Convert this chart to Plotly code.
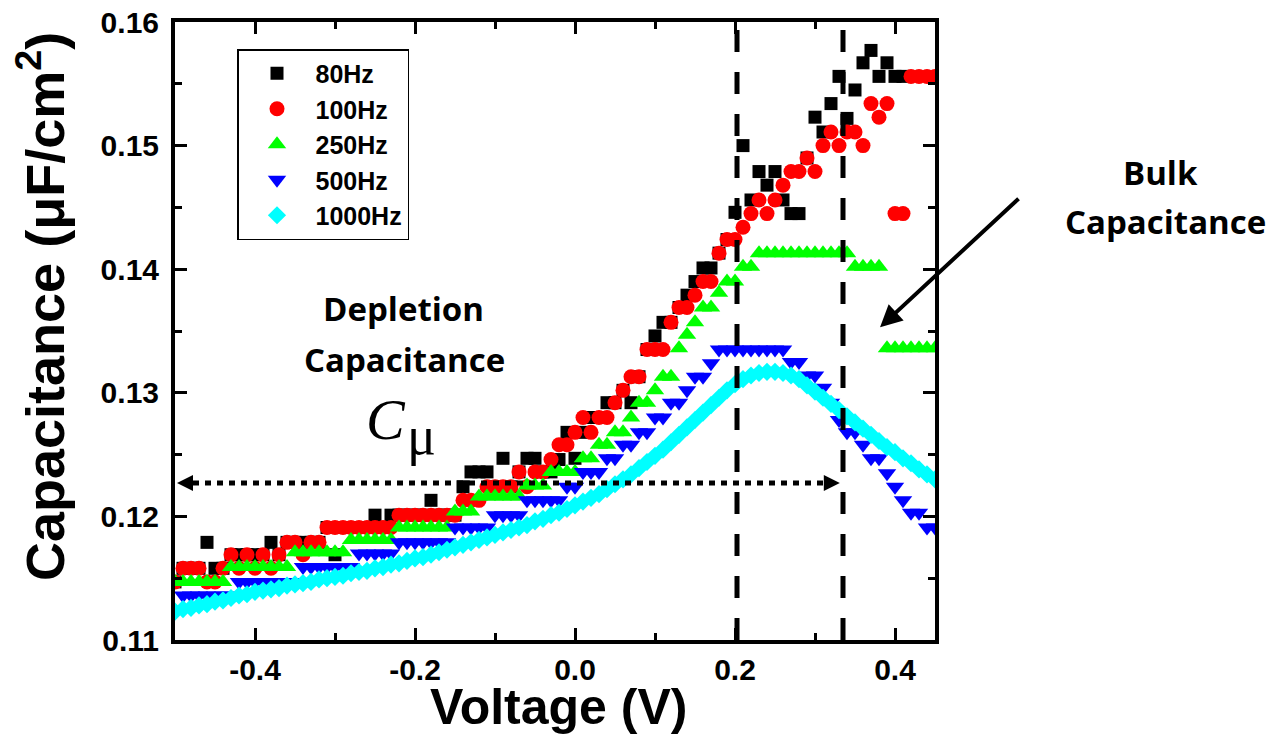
import plotly.graph_objects as go

# ---------------- data ----------------
voltage = [-0.50, -0.49, -0.48, -0.47, -0.46, -0.45, -0.44, -0.43, -0.42, -0.41,
           -0.40, -0.39, -0.38, -0.37, -0.36, -0.35, -0.34, -0.33, -0.32, -0.31,
           -0.30, -0.29, -0.28, -0.27, -0.26, -0.25, -0.24, -0.23, -0.22, -0.21,
           -0.20, -0.19, -0.18, -0.17, -0.16, -0.15, -0.14, -0.13, -0.12, -0.11,
           -0.10, -0.09, -0.08, -0.07, -0.06, -0.05, -0.04, -0.03, -0.02, -0.01,
           0.00, 0.01, 0.02, 0.03, 0.04, 0.05, 0.06, 0.07, 0.08, 0.09,
           0.10, 0.11, 0.12, 0.13, 0.14, 0.15, 0.16, 0.17, 0.18, 0.19,
           0.20, 0.21, 0.22, 0.23, 0.24, 0.25, 0.26, 0.27, 0.28, 0.29,
           0.30, 0.31, 0.32, 0.33, 0.34, 0.35, 0.36, 0.37, 0.38, 0.39,
           0.40, 0.41, 0.42, 0.43, 0.44, 0.45]

v_80 = voltage[:92]       # 80 Hz sweep ends at 0.41 V
c_80 = [0.1147, 0.1158, 0.1158, 0.1158, 0.1179, 0.1158, 0.1158, 0.1169, 0.1169, 0.1169,
        0.1169, 0.1169, 0.1179, 0.1169, 0.1179, 0.1179, 0.1179, 0.1179, 0.1179, 0.1191,
        0.1169, 0.1191, 0.1191, 0.1191, 0.1191, 0.1201, 0.1191, 0.1201, 0.1201, 0.1201,
        0.1201, 0.1201, 0.1213, 0.1201, 0.1201, 0.1201, 0.1224, 0.1236, 0.1236, 0.1236,
        0.1224, 0.1247, 0.1224, 0.1236, 0.1247, 0.1247, 0.1236, 0.1236, 0.1246, 0.1268,
        0.1247, 0.1268, 0.1280, 0.1280, 0.1292, 0.1292, 0.1302, 0.1292, 0.1313, 0.1335,
        0.1346, 0.1357, 0.1357, 0.1369, 0.1379, 0.1390, 0.1401, 0.1401, 0.1413, 0.1424,
        0.1446, 0.1500, 0.1456, 0.1479, 0.1468, 0.1479, 0.1456, 0.1445, 0.1445, 0.1490,
        0.1523, 0.1511, 0.1534, 0.1556, 0.1522, 0.1545, 0.1567, 0.1577, 0.1556, 0.1567,
        0.1556, 0.1556]

v_100 = voltage
c_100 = [0.1147, 0.1158, 0.1158, 0.1158, 0.1147, 0.1147, 0.1158, 0.1169, 0.1158, 0.1169,
         0.1158, 0.1169, 0.1158, 0.1169, 0.1179, 0.1179, 0.1169, 0.1179, 0.1179, 0.1191,
         0.1191, 0.1191, 0.1191, 0.1191, 0.1191, 0.1191, 0.1191, 0.1191, 0.1201, 0.1201,
         0.1201, 0.1201, 0.1201, 0.1201, 0.1201, 0.1201, 0.1213, 0.1213, 0.1213, 0.1224,
         0.1224, 0.1224, 0.1224, 0.1236, 0.1224, 0.1236, 0.1236, 0.1246, 0.1258, 0.1258,
         0.1268, 0.1280, 0.1268, 0.1280, 0.1280, 0.1292, 0.1302, 0.1313, 0.1313, 0.1335,
         0.1335, 0.1335, 0.1357, 0.1369, 0.1369, 0.1379, 0.1390, 0.1390, 0.1413, 0.1424,
         0.1424, 0.1434, 0.1445, 0.1456, 0.1445, 0.1456, 0.1468, 0.1479, 0.1479, 0.1490,
         0.1479, 0.1500, 0.1511, 0.1500, 0.1511, 0.1511, 0.1500, 0.1534, 0.1523, 0.1534,
         0.1445, 0.1445, 0.1556, 0.1556, 0.1556, 0.1556]

v_250 = voltage
c_250 = [0.1147, 0.1147, 0.1147, 0.1147, 0.1147, 0.1147, 0.1147, 0.1159, 0.1159, 0.1159,
         0.1159, 0.1159, 0.1159, 0.1159, 0.1159, 0.1171, 0.1171, 0.1171, 0.1171, 0.1171,
         0.1171, 0.1171, 0.1181, 0.1181, 0.1181, 0.1181, 0.1181, 0.1181, 0.1191, 0.1191,
         0.1191, 0.1191, 0.1191, 0.1191, 0.1191, 0.1204, 0.1204, 0.1204, 0.1216, 0.1216,
         0.1216, 0.1216, 0.1216, 0.1216, 0.1225, 0.1225, 0.1225, 0.1236, 0.1236, 0.1236,
         0.1236, 0.1247, 0.1247, 0.1258, 0.1258, 0.1268, 0.1268, 0.1280, 0.1292, 0.1292,
         0.1302, 0.1313, 0.1313, 0.1336, 0.1347, 0.1357, 0.1369, 0.1369, 0.1381, 0.1390,
         0.1390, 0.1402, 0.1402, 0.1413, 0.1413, 0.1413, 0.1413, 0.1413, 0.1413, 0.1413,
         0.1413, 0.1413, 0.1413, 0.1413, 0.1413, 0.1402, 0.1402, 0.1402, 0.1402, 0.1336,
         0.1336, 0.1336, 0.1336, 0.1336, 0.1336, 0.1336]

v_500 = voltage[1:]       # 500 Hz sweep starts at -0.49 V
c_500 = [0.1136, 0.1136, 0.1136, 0.1136, 0.1136, 0.1136, 0.1136, 0.1147, 0.1147,
         0.1147, 0.1147, 0.1147, 0.1147, 0.1147, 0.1147, 0.1159, 0.1159, 0.1159, 0.1159,
         0.1159, 0.1159, 0.1159, 0.1170, 0.1170, 0.1170, 0.1170, 0.1170, 0.1179, 0.1179,
         0.1179, 0.1179, 0.1179, 0.1179, 0.1179, 0.1191, 0.1191, 0.1191, 0.1191, 0.1191,
         0.1201, 0.1201, 0.1201, 0.1201, 0.1213, 0.1213, 0.1213, 0.1213, 0.1213, 0.1224,
         0.1224, 0.1236, 0.1236, 0.1236, 0.1247, 0.1247, 0.1258, 0.1258, 0.1268, 0.1268,
         0.1280, 0.1280, 0.1292, 0.1292, 0.1302, 0.1313, 0.1313, 0.1324, 0.1335, 0.1335,
         0.1335, 0.1335, 0.1335, 0.1335, 0.1335, 0.1335, 0.1335, 0.1325, 0.1325, 0.1314,
         0.1314, 0.1304, 0.1292, 0.1278, 0.1268, 0.1268, 0.1258, 0.1247, 0.1247, 0.1235,
         0.1224, 0.1213, 0.1203, 0.1203, 0.1191, 0.1191]

v_1000 = voltage
c_1000 = [0.1123, 0.1125, 0.1126, 0.1128, 0.1129, 0.1131, 0.1132, 0.1134, 0.1136, 0.1137,
          0.1139, 0.1140, 0.1141, 0.1142, 0.1144, 0.1145, 0.1146, 0.1147, 0.1149, 0.1150,
          0.1151, 0.1152, 0.1154, 0.1155, 0.1156, 0.1158, 0.1159, 0.1161, 0.1162, 0.1164,
          0.1166, 0.1167, 0.1169, 0.1171, 0.1173, 0.1175, 0.1177, 0.1179, 0.1181, 0.1183,
          0.1185, 0.1187, 0.1189, 0.1191, 0.1193, 0.1196, 0.1198, 0.1201, 0.1203, 0.1206,
          0.1209, 0.1212, 0.1215, 0.1218, 0.1222, 0.1226, 0.1230, 0.1234, 0.1239, 0.1244,
          0.1249, 0.1254, 0.1260, 0.1266, 0.1272, 0.1278, 0.1284, 0.1290, 0.1296, 0.1302,
          0.1307, 0.1311, 0.1314, 0.1316, 0.1317, 0.1317, 0.1316, 0.1314, 0.1311, 0.1306,
          0.1301, 0.1296, 0.1291, 0.1286, 0.1281, 0.1276, 0.1271, 0.1266, 0.1261, 0.1256,
          0.1252, 0.1247, 0.1243, 0.1238, 0.1234, 0.1230]

series_names = ["80Hz", "100Hz", "250Hz", "500Hz", "1000Hz"]
x_tick_vals = [-0.4, -0.2, 0.0, 0.2, 0.4]
x_tick_text = ["-0.4", "-0.2", "0.0", "0.2", "0.4"]
y_tick_vals = [0.11, 0.12, 0.13, 0.14, 0.15, 0.16]
y_tick_text = ["0.11", "0.12", "0.13", "0.14", "0.15", "0.16"]

# annotation anchors (data units)
region_edges_v = [0.2025, 0.335]      # dashed vertical lines
cmu_level = 0.1227                    # dotted double arrow level
cmu_span = [-0.4775, 0.3137]
bulk_arrow_tip = (0.3813, 0.1353)

# ---------------- layout geometry ----------------
OFF = 8                      # page body margin of the exported html
W, H = 1274 - OFF, 737 - OFF
L, T = 175 - OFF, 22 - OFF   # plot area left / top on the page
PR, PB = 935 - OFF, 640 - OFF
R, B = W - PR, H - PB
PW, PH = PR - L, PB - T


def px2paper(px, py):
    """page pixel -> paper coordinates"""
    return (px - OFF - L) / PW, (PB - (py - OFF)) / PH


styles = [
    dict(symbol="square", size=13, color="#000000"),
    dict(symbol="circle", size=15, color="#FF0000"),
    dict(symbol="triangle-up", size=16, color="#00FF00"),
    dict(symbol="triangle-down", size=16, color="#0000FF"),
    dict(symbol="diamond", size=14, color="#00FFFF"),
]
xs = [v_80, v_100, v_250, v_500, v_1000]
ys = [c_80, c_100, c_250, c_500, c_1000]

fig = go.Figure()
for name, x, y, st in zip(series_names, xs, ys, styles):
    fig.add_trace(go.Scatter(
        x=x, y=y, mode="markers", name=name,
        marker=dict(symbol=st["symbol"], size=st["size"], color=st["color"],
                    line=dict(width=0)),
    ))

shapes = []
for xv in region_edges_v:
    shapes.append(dict(type="line", xref="x", yref="paper", x0=xv, x1=xv, y0=0, y1=1,
                       line=dict(color="black", width=5, dash="22px,20px")))
shapes.append(dict(type="line", xref="x", yref="y", x0=cmu_span[0], x1=cmu_span[1],
                   y0=cmu_level, y1=cmu_level,
                   line=dict(color="black", width=5, dash="6px,6px")))

annotations = []
# arrowheads of the dotted double arrow
annotations.append(dict(x=-0.4975, y=cmu_level, xref="x", yref="y", ax=14, ay=0,
                        text="", showarrow=True, arrowhead=2, arrowwidth=2,
                        arrowsize=1.6, arrowcolor="black"))
annotations.append(dict(x=0.331, y=cmu_level, xref="x", yref="y", ax=-14, ay=0,
                        text="", showarrow=True, arrowhead=2, arrowwidth=2,
                        arrowsize=1.6, arrowcolor="black"))
# bulk capacitance arrow
annotations.append(dict(x=bulk_arrow_tip[0], y=bulk_arrow_tip[1], xref="x", yref="y",
                        ax=140, ay=-130, text="", showarrow=True, arrowhead=2,
                        arrowwidth=4, arrowsize=1.1, arrowcolor="black"))

label_font = dict(family="Open Sans", size=33, color="black", weight="bold")
for txt, (px, py) in [("Depletion", (403, 308)), ("Capacitance", (404, 359)),
                      ("Bulk", (1160, 172)), ("Capacitance", (1165, 221))]:
    xp, yp = px2paper(px, py)
    annotations.append(dict(x=xp, y=yp, xref="paper", yref="paper", text=txt,
                            showarrow=False, font=label_font,
                            xanchor="center", yanchor="middle"))

xp, yp = px2paper(386, 419)
annotations.append(dict(x=xp, y=yp, xref="paper", yref="paper", text="<i>C</i>",
                        showarrow=False, xanchor="center", yanchor="middle",
                        font=dict(family="Liberation Serif", size=58, color="black")))
xp, yp = px2paper(421, 436)
annotations.append(dict(x=xp, y=yp, xref="paper", yref="paper", text="μ",
                        showarrow=False, xanchor="center", yanchor="middle",
                        font=dict(family="Liberation Serif", size=54, color="black")))

# axis titles
xp, yp = px2paper(558, 707)
annotations.append(dict(x=xp, y=yp, xref="paper", yref="paper", text="Voltage (V)",
                        showarrow=False, xanchor="center", yanchor="middle",
                        font=dict(family="Liberation Sans", size=50, color="black",
                                  weight="bold")))
xp, yp = px2paper(41, 307)
annotations.append(dict(x=xp, y=yp, xref="paper", yref="paper",
                        text="Capacitance (μF/cm<sup>2</sup>)", textangle=-90,
                        showarrow=False, xanchor="center", yanchor="middle",
                        font=dict(family="Liberation Sans", size=54, color="black",
                                  weight="bold")))

lx, ly = px2paper(237, 49)
fig.update_layout(
    width=W, height=H,
    margin=dict(l=L, r=R, t=T, b=B, pad=0, autoexpand=False),
    paper_bgcolor="white", plot_bgcolor="white",
    font=dict(family="Liberation Sans", color="black"),
    showlegend=True,
    legend=dict(x=lx, y=ly, xanchor="left", yanchor="top",
                bgcolor="white", bordercolor="black", borderwidth=1.5,
                font=dict(family="Liberation Sans", size=25, color="black", weight="bold"),
                itemwidth=67, tracegroupgap=0),
    shapes=shapes,
    annotations=annotations,
    xaxis=dict(range=[-0.5, 0.45], tickvals=x_tick_vals, ticktext=x_tick_text,
               automargin=False,
               ticks="inside", ticklen=12, tickwidth=3, tickcolor="black",
               showline=True, linewidth=4, linecolor="black", mirror="allticks",
               showgrid=False, zeroline=False, ticklabelstandoff=0,
               ticklabeloverflow="allow",
               tickfont=dict(family="Liberation Sans", size=30,
                             color="black", weight="bold"),
               minor=dict(ticks="inside", ticklen=7, tickwidth=3, tickcolor="black",
                          tick0=0, dtick=0.1, showgrid=False)),
    yaxis=dict(range=[0.11, 0.16], tickvals=y_tick_vals, ticktext=y_tick_text,
               automargin=False,
               ticks="inside", ticklen=12, tickwidth=3, tickcolor="black",
               showline=True, linewidth=4, linecolor="black", mirror="allticks",
               showgrid=False, zeroline=False, ticklabelstandoff=6,
               ticklabeloverflow="allow",
               tickfont=dict(family="Liberation Sans", size=30, color="black",
                             weight="bold"),
               minor=dict(ticks="inside", ticklen=7, tickwidth=3, tickcolor="black",
                          tick0=0.11, dtick=0.005, showgrid=False)),
)

fig.write_html("out.html")
